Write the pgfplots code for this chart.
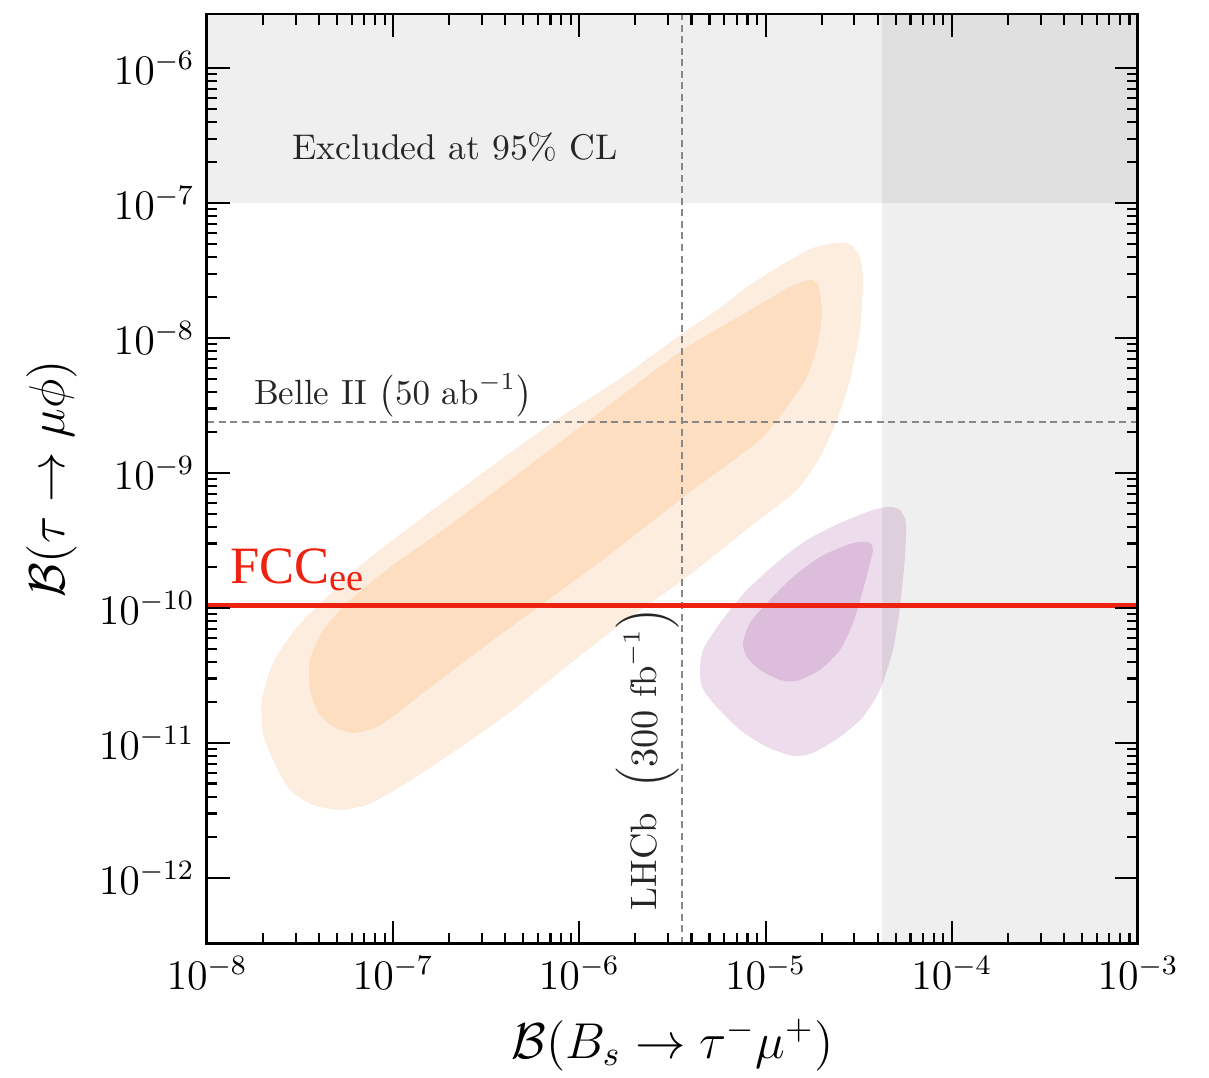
\documentclass[border=0pt]{standalone}
\usepackage{fontspec}
\usepackage{pgfplots}
\pgfplotsset{compat=1.18}
\newfontfamily\timesf{Liberation Serif}
\definecolor{orlight}{RGB}{253,237,222}
\definecolor{ordark}{RGB}{253,222,192}
\definecolor{pulight}{RGB}{237,221,236}
\definecolor{pudark}{RGB}{221,189,220}
\definecolor{fccred}{RGB}{238,34,17}
\definecolor{dashgray}{RGB}{135,135,135}
\begin{document}
\begin{tikzpicture}
\begin{axis}[
  width=266pt, height=265.7pt, scale only axis,
  xmode=log, ymode=log,
  xmin=1e-8, xmax=1e-3, ymin=3.24e-13, ymax=2.512e-6,
  xtick={1e-8,1e-7,1e-6,1e-5,1e-4,1e-3},
  ytick={1e-12,1e-11,1e-10,1e-9,1e-8,1e-7,1e-6},
  axis on top,
  axis line style={line width=0.85pt},
  every tick/.style={black, line width=0.6pt},
  major tick length=6.6pt, minor tick length=3pt,
  tick label style={font=\fontsize{12}{14}\selectfont},
  label style={font=\fontsize{14.4}{17}\selectfont},
  xlabel={$\mathcal{B}(B_s\to\tau^-\mu^+)$},
  ylabel={$\mathcal{B}(\tau\to\mu\phi)$},
  xlabel style={at={(axis description cs:0.5,-0.1086)}, anchor=center},
  ylabel style={at={(axis description cs:-0.1665,0.5)}, anchor=center},
  clip=true,
]
% outer orange
\addplot[fill=orlight, draw=none, smooth cycle, tension=0.4] coordinates {
(2.415e-5,5.055e-8) (1.797e-5,4.642e-8) (1.195e-5,3.415e-8) (7.945e-6,2.385e-8)
(5.69e-6,1.668e-8) (3.60e-6,1.089e-8) (1.612e-6,4.886e-9) (7.215e-7,2.385e-9)
(2.019e-7,6.64e-10) (7.233e-8,2.268e-10) (4.41e-8,1.206e-10) (3.043e-8,7.233e-11)
(2.262e-8,3.914e-11) (1.974e-8,2.083e-11) (1.999e-8,1.186e-11) (2.262e-8,7.483e-12)
(2.791e-8,4.486e-12) (3.71e-8,3.473e-12) (5.18e-8,3.189e-12) (7.233e-8,3.473e-12)
(9.61e-8,4.262e-12) (1.519e-7,6.310e-12) (3.746e-7,1.481e-11) (6.953e-7,2.929e-11)
(1.592e-6,7.233e-11) (3.60e-6,1.612e-10) (8.245e-6,3.981e-10) (1.474e-5,7.483e-10)
(1.960e-5,1.314e-9) (2.415e-5,2.469e-9) (2.840e-5,4.886e-9) (3.214e-5,1.146e-8)
(3.335e-5,2.689e-8) (3.214e-5,3.981e-8) (2.840e-5,4.970e-8)
};
% inner orange
\addplot[fill=ordark, draw=none, smooth cycle, tension=0.4] coordinates {
(1.731e-5,2.689e-8) (1.352e-5,2.385e-8) (7.945e-6,1.558e-8) (3.470e-6,7.876e-9)
(1.098e-6,2.385e-9) (2.019e-7,4.118e-10) (1.088e-7,2.268e-10) (7.506e-8,1.532e-10)
(5.509e-8,1.052e-10) (4.146e-8,6.64e-11) (3.574e-8,4.118e-11) (3.574e-8,2.469e-11)
(3.946e-8,1.697e-11) (4.692e-8,1.336e-11) (6.006e-8,1.186e-11) (7.987e-8,1.292e-11)
(1.023e-7,1.612e-11) (1.519e-7,2.469e-11) (3.746e-7,6.310e-11) (1.290e-6,2.192e-10)
(3.926e-6,7.233e-10) (6.439e-6,1.186e-9) (9.68e-6,1.848e-9) (1.352e-5,3.300e-9)
(1.668e-5,5.142e-9) (1.888e-5,8.577e-9) (2.009e-5,1.532e-8) (1.911e-5,2.469e-8)
};
% outer purple
\addplot[fill=pulight, draw=none, smooth cycle, tension=0.4] coordinates {
(4.443e-6,3.473e-11) (4.554e-6,2.599e-11) (5.218e-6,1.979e-11) (7.287e-6,1.248e-11)
(1.017e-5,9.34e-12) (1.404e-5,8.01e-12) (1.797e-5,8.43e-12) (2.511e-5,1.107e-11)
(3.335e-5,1.558e-11) (4.115e-5,2.469e-11) (4.833e-5,4.886e-11) (5.27e-5,1.017e-10)
(5.606e-5,2.385e-10) (5.675e-5,4.262e-10) (5.27e-5,5.32e-10) (4.657e-5,5.60e-10)
(3.775e-5,5.32e-10) (2.511e-5,4.262e-10) (1.668e-5,3.189e-10) (1.195e-5,2.268e-10)
(7.945e-6,1.359e-10) (5.69e-6,7.743e-11) (4.611e-6,4.886e-11)
};
% inner purple
\addplot[fill=pudark, draw=none, smooth cycle, tension=0.4] coordinates {
(7.562e-6,5.504e-11) (7.945e-6,4.335e-11) (9.33e-6,3.473e-11) (1.195e-5,2.929e-11)
(1.474e-5,2.880e-11) (1.960e-5,3.473e-11) (2.511e-5,4.886e-11) (2.947e-5,7.743e-11)
(3.335e-5,1.359e-10) (3.637e-5,2.154e-10) (3.775e-5,2.689e-10) (3.637e-5,3.030e-10)
(3.214e-5,3.082e-10) (2.737e-5,2.929e-10) (1.960e-5,2.385e-10) (1.404e-5,1.697e-10)
(1.017e-5,1.089e-10) (8.245e-6,7.743e-11)
};
% excluded regions
\addplot[fill=black, fill opacity=0.063, draw=none] coordinates {
(1e-8,1e-7) (1e-3,1e-7) (1e-3,2.512e-6) (1e-8,2.512e-6)} -- cycle;
\addplot[fill=black, fill opacity=0.063, draw=none] coordinates {
(4.217e-5,3.24e-13) (1e-3,3.24e-13) (1e-3,2.512e-6) (4.217e-5,2.512e-6)} -- cycle;
% projections
\addplot[dashgray, line width=0.65pt, dash pattern=on 2pt off 1.3pt] coordinates {(3.556e-6,3.24e-13) (3.556e-6,2.512e-6)};
\addplot[dashgray, line width=0.65pt, dash pattern=on 2pt off 1.3pt] coordinates {(1e-8,2.385e-9) (1e-3,2.385e-9)};
\addplot[fccred, line width=1.4pt] coordinates {(1e-8,1.035e-10) (1e-3,1.035e-10)};
% texts
\node[anchor=center, text=black!85, font=\fontsize{10.2}{12}\selectfont] at (axis cs:2.148e-7,2.6e-7) {Excluded at 95\% CL};
\node[anchor=base, inner sep=0pt, text=black!85, font=\fontsize{10}{12}\selectfont] at (axis cs:1.0e-7,3.19e-9) {Belle II $\left(50~\mathrm{ab}^{-1}\right)$};
\node[anchor=base, rotate=90, inner sep=0pt, text=black!85, font=\fontsize{10.5}{12}\selectfont] at (axis cs:2.611e-6,7.61e-12) {LHCb\ \ $\left(300~\mathrm{fb}^{-1}\right)$};
\node[anchor=base west, inner sep=0pt, text=fccred] at (axis cs:1.329e-8,1.506e-10) {\timesf\fontsize{15}{18}\selectfont FCC\raisebox{-2pt}{\fontsize{11}{13}\selectfont ee}};
\end{axis}
\pgfresetboundingbox
\path[use as bounding box] ([shift={(-59.14pt,-38.29pt)}]current axis.south west) rectangle ([shift={(20.29pt,4pt)}]current axis.north east);
\end{tikzpicture}
\end{document}
